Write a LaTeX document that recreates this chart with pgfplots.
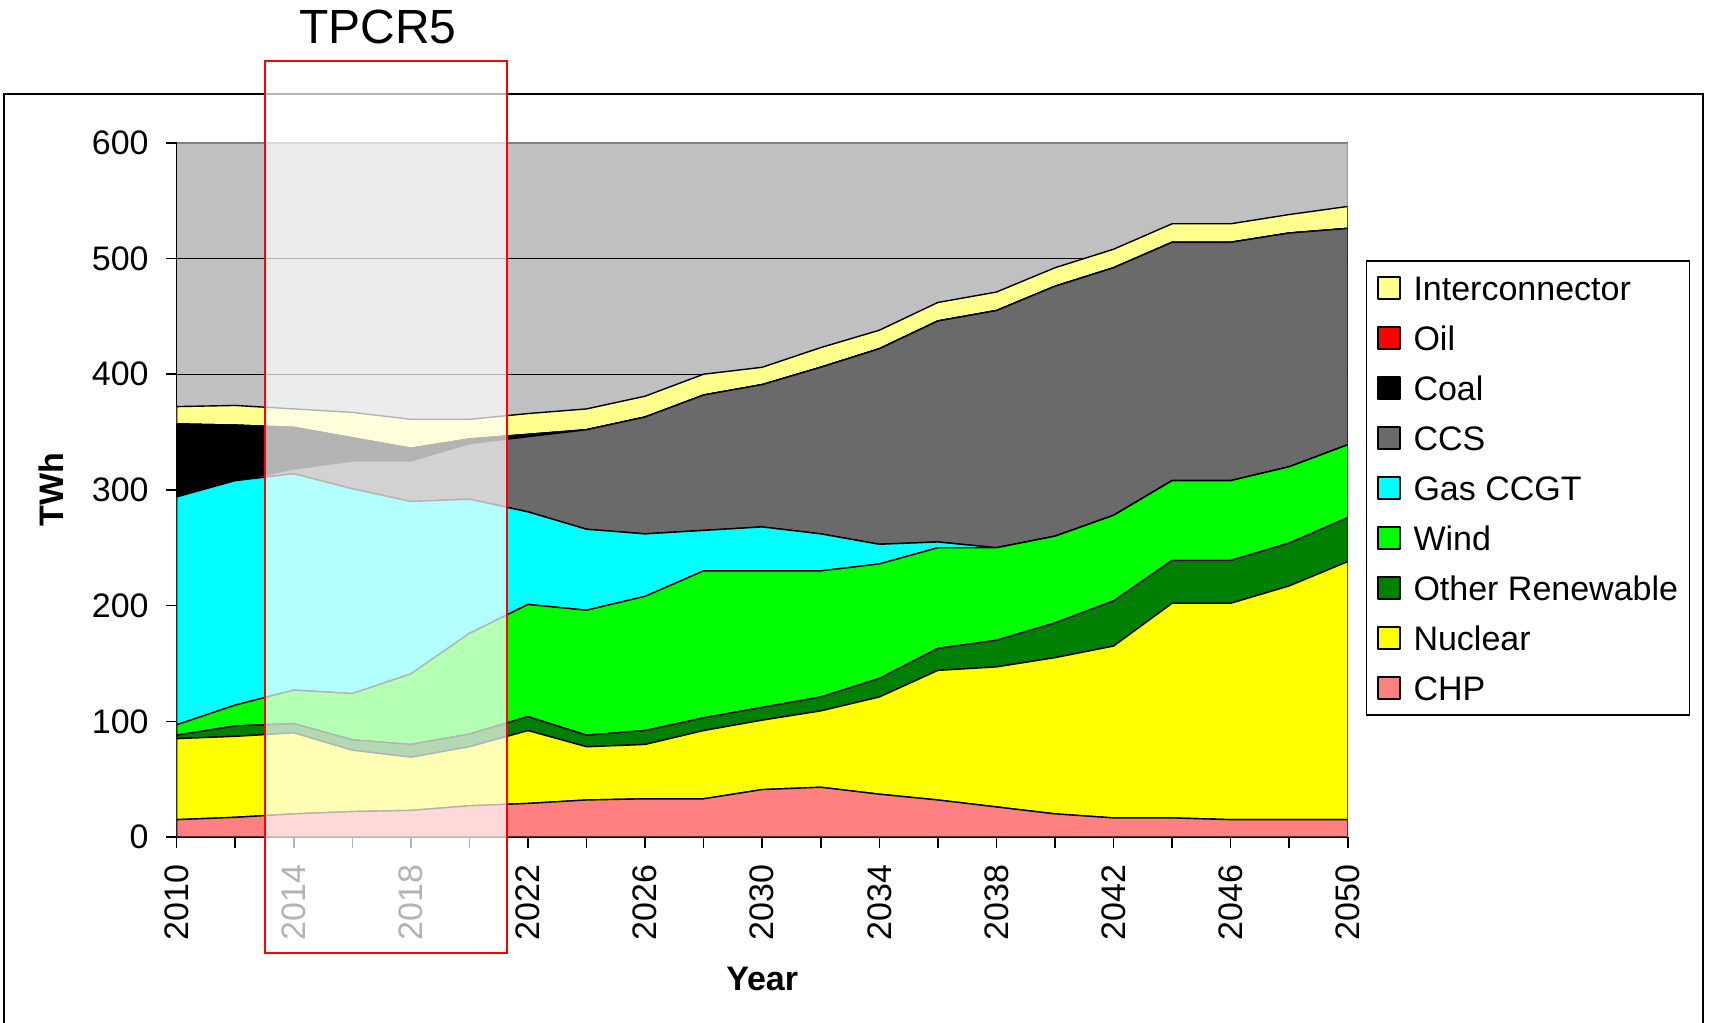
\documentclass[border=0pt]{standalone}
\usepackage{fontspec}
\setmainfont{Liberation Sans}
\usepackage{pgfplots}
\pgfplotsset{compat=1.18}
\usepackage{pgfplotstable}
\definecolor{chp}{HTML}{FF8080}
\definecolor{nuc}{HTML}{FFFF00}
\definecolor{oren}{HTML}{008000}
\definecolor{wind}{HTML}{00FF00}
\definecolor{gas}{HTML}{00FFFF}
\definecolor{ccs}{HTML}{6A6A6A}
\definecolor{coal}{HTML}{000000}
\definecolor{oil}{HTML}{FF0000}
\definecolor{inter}{HTML}{FFFF8C}
\definecolor{plotbg}{HTML}{C0C0C0}
\definecolor{bordergray}{HTML}{808080}

\pgfplotstableread{
year chp nuc oren wind gas ccs coal oil inter
2010 15 70 3 9 197 0 63 0 15
2012 17 70 9 18 194 0 48 0 17
2014 20 70 8 29 187 4 36 0 16
2016 22 53 9 40 177 24 20 0 22
2018 23 46 11 61 149 35 11 0 25
2020 27 51 11 87 116 48 4 0 17
2022 29 63 12 97 80 65 2 0 18
2024 32 46 10 108 70 86 0 0 18
2026 33 47 12 116 54 101 0 0 18
2028 33 59 11 127 35 117 0 0 18
2030 41 60 11 118 38 123 0 0 15
2032 43 66 12 109 32 144 0 0 17
2034 37 84 16 99 17 169 0 0 16
2036 32 112 19 87 5 191 0 0 16
2038 26 121 23 80 0 205 0 0 16
2040 20 135 30 75 0 216 0 0 16
2042 16.5 148.5 39 74 0 214 0 0 16
2044 16.5 185.5 37 69 0 206 0 0 16
2046 15 187 37 69 0 206 0 0 16
2048 15 202 37 66 0 202 0 0 16
2050 15 223 38 63 0 187 0 0 19
}\datatable

\begin{document}
\begin{tikzpicture}[x=1pt,y=1pt]
\useasboundingbox (0,0) rectangle (854.5,511.5);
\draw[black, line width=1pt] (1.75,-5) -- (1.75,464.5) -- (851.5,464.5) -- (851.5,-5);
\begin{axis}[
  at={(88.35pt,93pt)}, anchor=south west,
  scale only axis, width=585.5pt, height=347.1pt,
  xmin=2010, xmax=2050, ymin=0, ymax=600,
  stack plots=y,
  axis background/.style={fill=plotbg},
  axis x line*=bottom, axis y line*=left,
  axis line style={-, black, line width=0.8pt},
  ymajorgrids, grid style={black, line width=0.6pt},
  xtick={2010,2014,...,2050},
  minor xtick={2012,2016,...,2048},
  ytick={0,100,...,600},
  tick align=outside,
  major tick length=5.5pt, minor tick length=5.5pt,
  tick style={black, line width=0.8pt},
  /pgf/number format/1000 sep={},
  /pgf/number format/assume math mode=true,
  xticklabel style={rotate=90, anchor=east, xshift=-5pt, font=\fontsize{17}{20}\selectfont},
  yticklabel style={font=\fontsize{17}{20}\selectfont, xshift=-5pt},
  xlabel={Year}, ylabel={TWh},
  xlabel style={at={(0.5,-0.2046)}, anchor=center, font=\bfseries\fontsize{17}{20}\selectfont},
  ylabel style={at={(-0.1073,0.5)}, anchor=center, font=\bfseries\fontsize{17}{20}\selectfont},
  reverse legend,
  legend cell align=left,
  legend image code/.code={\draw[#1, draw=black, line width=0.6pt] (0pt,-5.5pt) rectangle (11pt,5.5pt);},
  legend style={at={(1.01537,0.8305)}, anchor=north west, draw=black, line width=0.6pt, fill=white,
    font=\fontsize{17}{20}\selectfont, inner xsep=5.5pt, inner ysep=1pt, row sep=0pt,
    nodes={inner sep=0pt, text height=18.6pt, text depth=6.4pt},
    /tikz/every odd column/.append style={column sep=6.5pt}},
  every axis plot/.append style={draw=black, line width=0.7pt, line join=round},
]
\addplot[fill=chp] table[x=year,y=chp] {\datatable} \closedcycle;
\addplot[fill=nuc] table[x=year,y=nuc] {\datatable} \closedcycle;
\addplot[fill=oren] table[x=year,y=oren] {\datatable} \closedcycle;
\addplot[fill=wind] table[x=year,y=wind] {\datatable} \closedcycle;
\addplot[fill=gas] table[x=year,y=gas] {\datatable} \closedcycle;
\addplot[fill=ccs] table[x=year,y=ccs] {\datatable} \closedcycle;
\addplot[fill=coal] table[x=year,y=coal] {\datatable} \closedcycle;
\addplot[fill=oil] table[x=year,y=oil] {\datatable} \closedcycle;
\addplot[fill=inter] table[x=year,y=inter] {\datatable} \closedcycle;
\legend{CHP,Nuclear,Other Renewable,Wind,Gas CCGT,CCS,Coal,Oil,Interconnector}
\draw[bordergray, line width=0.8pt] (rel axis cs:0,1) -- (rel axis cs:1,1) -- (rel axis cs:1,0);
\draw[black, line width=0.8pt] (rel axis cs:0,1) -- (rel axis cs:0,0) -- (rel axis cs:1,0);
\end{axis}
\fill[white, opacity=0.7] (132.5,35.15) rectangle (253.5,481.15);
\draw[red, line width=1pt] (132.5,35.15) rectangle (253.5,481.15);
\node[font=\fontsize{24}{28}\selectfont, anchor=base] at (189,489.7) {TPCR5};
\end{tikzpicture}
\end{document}
